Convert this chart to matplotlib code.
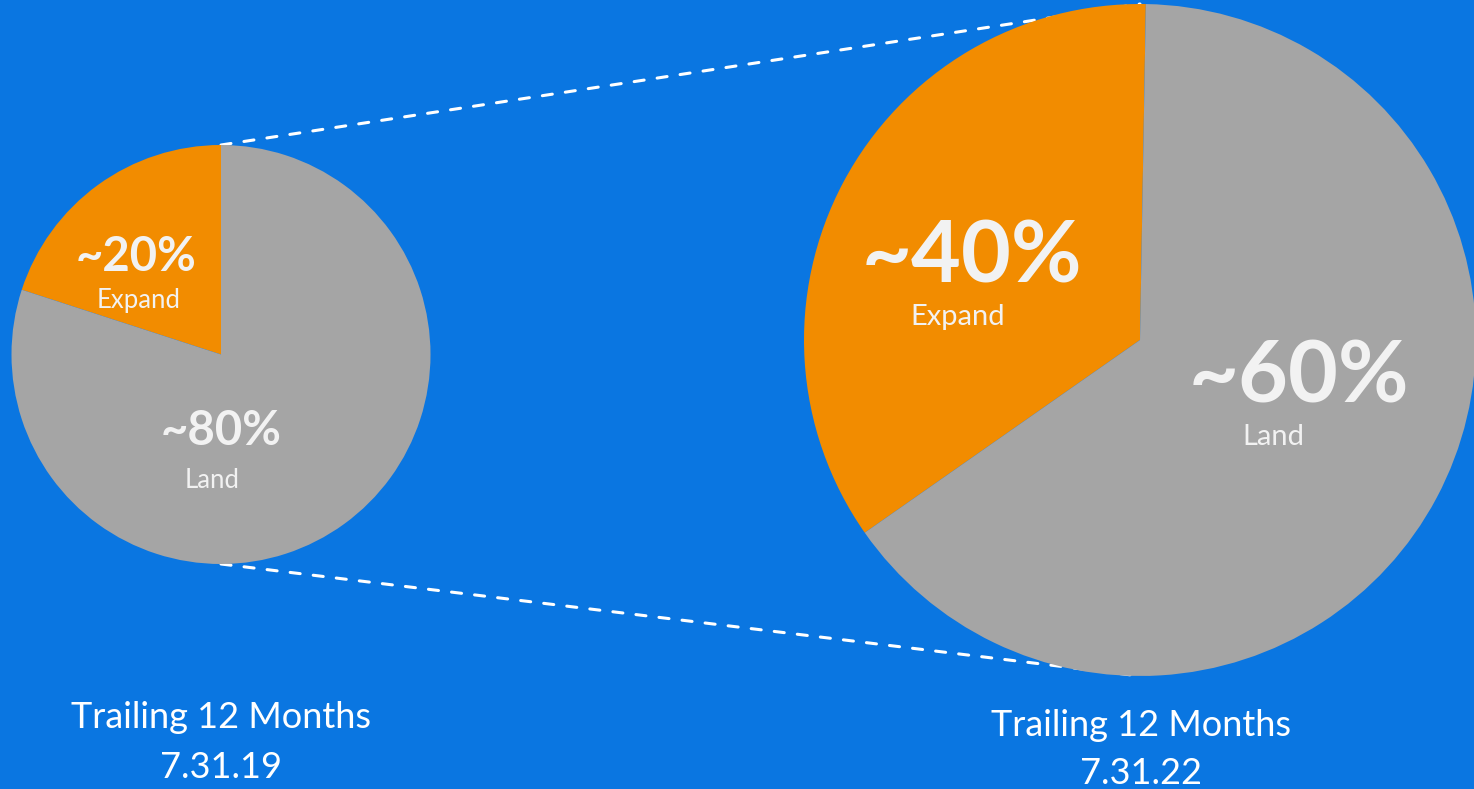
import numpy as np
import matplotlib.pyplot as plt

# data
shares_2019 = [20, 80]          # Expand, Land
shares_2022 = [35, 65]          # wedge as drawn (labelled ~40 / ~60)
labels_2019 = ["~20%", "~80%"]
labels_2022 = ["~40%", "~60%"]
segments = ["Expand", "Land"]
periods = ["Trailing 12 Months\n7.31.19", "Trailing 12 Months\n7.31.22"]

W, H = 1474, 789
bg = "#0A76E1"
colors = ["#F28C00", "#A5A5A5"]
txt = "#F2F2F2"
plt.rcParams["font.family"] = ["Lato", "DejaVu Sans"]

fig = plt.figure(figsize=(W / 100, H / 100), dpi=100, facecolor=bg)
ax = fig.add_axes([0, 0, 1, 1])
ax.set_facecolor(bg)

def Y(y):
    return H - y

# pies: centre / radius in pixels
c1, r1 = (221, 354.5), 209.5
c2, r2 = (1140, 340), 336

# dashed connectors between the tops and bottoms of the pies
for ya, yb in [(c1[1] - r1, c2[1] - r2), (c1[1] + r1, c2[1] + r2)]:
    ax.plot([c1[0], c2[0]], [Y(ya), Y(yb)], color="white", lw=2.2,
            dashes=[3.3, 4.3], dash_capstyle="round", zorder=1)

ax.pie(shares_2019, colors=colors, startangle=90, counterclock=True,
       center=(c1[0], Y(c1[1])), radius=r1, wedgeprops=dict(zorder=2, linewidth=0))
ax.pie(shares_2022, colors=colors, startangle=89, counterclock=True,
       center=(c2[0], Y(c2[1])), radius=r2, wedgeprops=dict(zorder=2, linewidth=0))

# slice labels
ax.text(136, Y(257), labels_2019[0], fontsize=34, weight="bold", color=txt, ha="center", va="center")
ax.text(139, Y(300), segments[0], fontsize=18.5, color=txt, ha="center", va="center")
ax.text(221, Y(431), labels_2019[1], fontsize=34, weight="bold", color=txt, ha="center", va="center")
ax.text(212, Y(480), segments[1], fontsize=18.5, color=txt, ha="center", va="center")

ax.text(972, Y(258), labels_2022[0], fontsize=62, weight="bold", color=txt, ha="center", va="center")
ax.text(958, Y(317), segments[0], fontsize=21, color=txt, ha="center", va="center")
ax.text(1299, Y(378), labels_2022[1], fontsize=62, weight="bold", color=txt, ha="center", va="center")
ax.text(1273, Y(437), segments[1], fontsize=21, color=txt, ha="center", va="center")

# period captions
ax.text(221, Y(718), periods[0].split("\n")[0], fontsize=26, color="white", ha="center", va="center")
ax.text(221, Y(767), periods[0].split("\n")[1], fontsize=26, color="white", ha="center", va="center")
ax.text(1141, Y(726), periods[1].split("\n")[0], fontsize=26, color="white", ha="center", va="center")
ax.text(1141, Y(773), periods[1].split("\n")[1], fontsize=26, color="white", ha="center", va="center")

ax.set_xlim(0, W)
ax.set_ylim(0, H)
ax.set_aspect("equal")
ax.axis("off")

fig.savefig("out.png", dpi=100, facecolor=bg)
